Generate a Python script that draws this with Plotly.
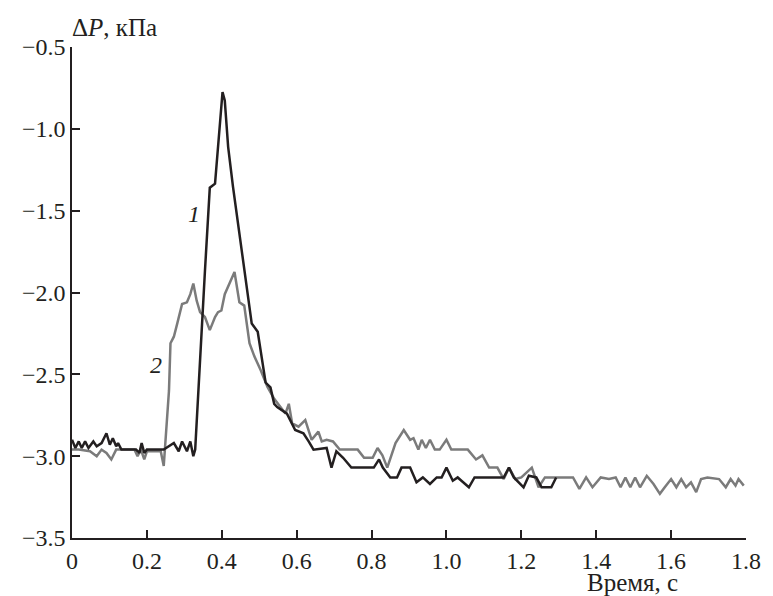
import plotly.graph_objects as go

# curve 1 (black)
t1 = [0, 0.009, 0.018, 0.026, 0.035, 0.044, 0.057, 0.066, 0.079, 0.092, 0.101, 0.109,
      0.118, 0.123, 0.132, 0.171, 0.18, 0.186, 0.193, 0.2, 0.245, 0.272, 0.285, 0.294,
      0.307, 0.316, 0.324, 0.329, 0.355, 0.362, 0.368, 0.382, 0.39, 0.402, 0.408, 0.417,
      0.43, 0.46, 0.48, 0.496, 0.517, 0.53, 0.54, 0.548, 0.574, 0.596, 0.618, 0.632,
      0.645, 0.68, 0.693, 0.706, 0.724, 0.746, 0.806, 0.82, 0.83, 0.85, 0.868, 0.88,
      0.903, 0.92, 0.937, 0.956, 0.974, 0.987, 1.0, 1.017, 1.03, 1.04, 1.06, 1.075,
      1.153, 1.167, 1.18, 1.206, 1.22, 1.24, 1.254, 1.28, 1.293]
p1 = [-2.90, -2.95, -2.91, -2.95, -2.91, -2.95, -2.91, -2.94, -2.92, -2.86, -2.93, -2.89,
      -2.94, -2.92, -2.96, -2.96, -2.98, -2.92, -2.98, -2.96, -2.96, -2.92, -2.97, -2.91,
      -2.97, -2.91, -3.0, -2.96, -1.87, -1.55, -1.36, -1.335, -1.11, -0.775, -0.826, -1.11,
      -1.355, -1.86, -2.19, -2.24, -2.55, -2.58, -2.68, -2.70, -2.74, -2.84, -2.86, -2.91,
      -2.96, -2.95, -3.07, -2.97, -3.01, -3.07, -3.07, -3.02, -3.07, -3.13, -3.13, -3.07,
      -3.07, -3.16, -3.13, -3.17, -3.13, -3.13, -3.07, -3.15, -3.13, -3.15, -3.19, -3.13,
      -3.13, -3.07, -3.13, -3.19, -3.12, -3.13, -3.19, -3.19, -3.13]

# curve 2 (grey)
t2 = [0, 0.018, 0.048, 0.066, 0.079, 0.092, 0.105, 0.118, 0.167, 0.175, 0.184, 0.193,
      0.2, 0.237, 0.245, 0.259, 0.263, 0.272, 0.281, 0.294, 0.307, 0.316, 0.324, 0.333,
      0.342, 0.355, 0.368, 0.382, 0.39, 0.399, 0.408, 0.421, 0.434, 0.447, 0.46, 0.474,
      0.487, 0.504, 0.522, 0.54, 0.557, 0.57, 0.579, 0.588, 0.605, 0.623, 0.64, 0.658,
      0.667, 0.68, 0.697, 0.715, 0.763, 0.78, 0.803, 0.816, 0.829, 0.842, 0.864, 0.886,
      0.903, 0.912, 0.925, 0.934, 0.945, 0.956, 0.969, 0.982, 1.0, 1.013, 1.057, 1.079,
      1.096, 1.114, 1.136, 1.153, 1.167, 1.184, 1.2, 1.228, 1.246, 1.263, 1.294, 1.338,
      1.355, 1.373, 1.39, 1.412, 1.434, 1.452, 1.465, 1.478, 1.491, 1.504, 1.517, 1.535,
      1.553, 1.57, 1.583, 1.60, 1.614, 1.627, 1.64, 1.653, 1.667, 1.68, 1.697, 1.728,
      1.746, 1.759, 1.772, 1.78, 1.794]
p2 = [-2.96, -2.96, -2.97, -3.0, -2.96, -2.98, -3.02, -2.96, -2.96, -3.0, -2.96, -3.02,
      -2.97, -2.97, -3.06, -2.6, -2.31, -2.27, -2.19, -2.07, -2.06, -2.01, -1.945, -2.05,
      -2.12, -2.15, -2.23, -2.15, -2.12, -2.11, -2.01, -1.945, -1.875, -2.06, -2.08, -2.31,
      -2.39, -2.475, -2.577, -2.65, -2.70, -2.74, -2.68, -2.80, -2.82, -2.78, -2.90, -2.85,
      -2.91, -2.90, -2.91, -2.96, -2.96, -3.01, -3.01, -2.95, -2.995, -3.07, -2.92, -2.84,
      -2.90, -2.89, -2.96, -2.90, -2.95, -2.90, -2.96, -2.96, -2.90, -2.96, -2.96, -3.02,
      -2.995, -3.07, -3.07, -3.14, -3.07, -3.14, -3.13, -3.07, -3.19, -3.13, -3.13, -3.13,
      -3.2, -3.13, -3.19, -3.13, -3.14, -3.13, -3.19, -3.13, -3.19, -3.13, -3.19, -3.12,
      -3.17, -3.23, -3.19, -3.14, -3.19, -3.14, -3.19, -3.16, -3.22, -3.14, -3.13, -3.14,
      -3.19, -3.14, -3.18, -3.14, -3.18]

xticks = [0, 0.2, 0.4, 0.6, 0.8, 1.0, 1.2, 1.4, 1.6, 1.8]
xtext = ["0", "0.2", "0.4", "0.6", "0.8", "1.0", "1.2", "1.4", "1.6", "1.8"]
yticks = [-3.5, -3.0, -2.5, -2.0, -1.5, -1.0, -0.5]
ytext = ["\u22123.5", "\u22123.0", "\u22122.5", "\u22122.0", "\u22121.5", "\u22121.0", "\u22120.5"]

font = dict(family="Liberation Serif", size=24, color="#231f20")
title_font = dict(family="Liberation Serif", size=25, color="#231f20")

fig = go.Figure()
fig.add_trace(go.Scatter(x=t2, y=p2, mode="lines", line=dict(color="#7b7b7b", width=2.5)))
fig.add_trace(go.Scatter(x=t1, y=p1, mode="lines", line=dict(color="#231f20", width=2.5)))

axis_common = dict(showgrid=False, zeroline=False, showline=True, linecolor="#231f20",
                   linewidth=1.5, ticks="inside", ticklen=8, tickwidth=1.5,
                   tickcolor="#231f20", tickfont=font)
fig.update_xaxes(range=[0, 1.8], tickvals=xticks, ticktext=xtext, **axis_common)
fig.update_yaxes(range=[-3.5, -0.5], tickvals=yticks, ticktext=ytext, **axis_common)

fig.add_annotation(x=-0.003, y=1.04, xref="paper", yref="paper", xanchor="left",
                   yanchor="middle", text="\u0394<i>P</i>, \u043a\u041f\u0430",
                   showarrow=False, font=title_font)
fig.add_annotation(x=0.831, y=-0.091, xref="paper", yref="paper", xanchor="center",
                   yanchor="middle", text="\u0412\u0440\u0435\u043c\u044f, \u0441",
                   showarrow=False, font=title_font, borderpad=0)
fig.add_annotation(x=0.327, y=-1.522, text="<i>1</i>", showarrow=False, font=font)
fig.add_annotation(x=0.2245, y=-2.445, text="<i>2</i>", showarrow=False, font=font)

# page body has an 8px margin, so the figure is 8px smaller on each side
fig.update_layout(width=765, height=588, showlegend=False,
                  margin=dict(l=64, r=17, t=39, b=58),
                  plot_bgcolor="white", paper_bgcolor="white", font=font)

fig.write_html("out.html")
